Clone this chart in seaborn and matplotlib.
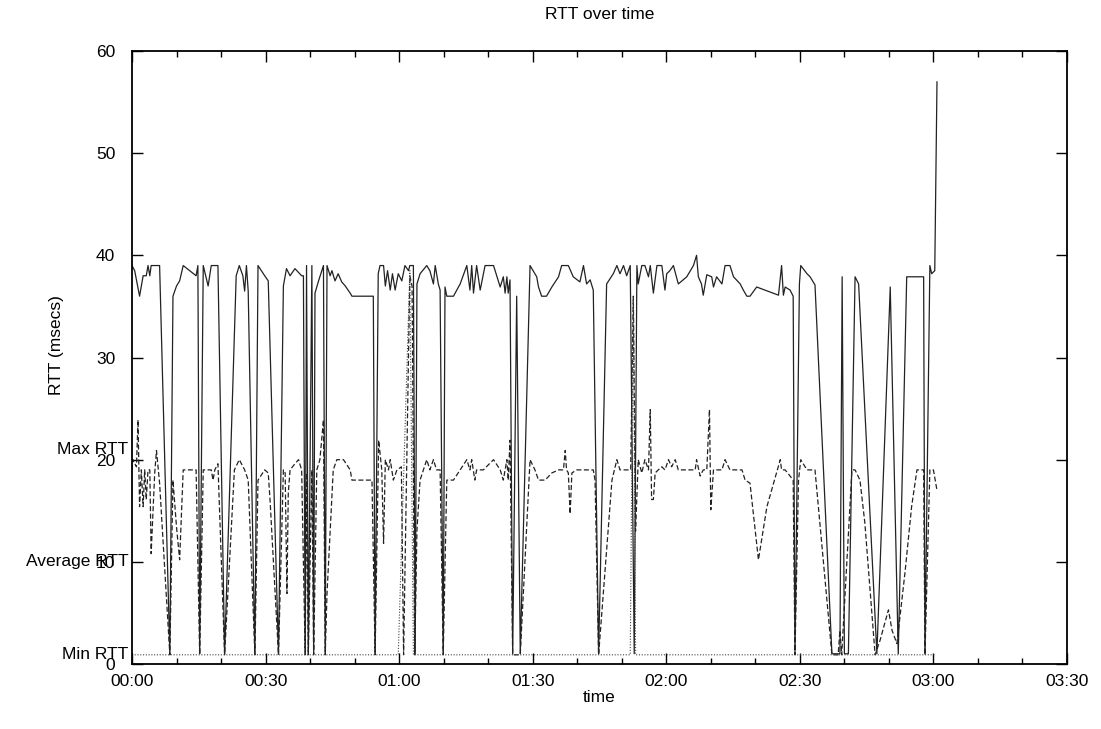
import matplotlib
matplotlib.use("Agg")
import matplotlib.pyplot as plt
import seaborn as sns
import pandas as pd
from matplotlib.ticker import MultipleLocator, FixedLocator
import matplotlib.transforms as mtransforms

# ---------------- data (time in minutes since 00:00, RTT in msecs) ----------------
t_max = [0, 0.6, 1.7, 2.5, 3.2, 3.6, 4.0, 4.3, 6.2, 8.5, 9.2, 10.0, 10.7, 11.5, 14.4, 14.8, 15.2,
         16.0, 17.1, 17.8, 19.3, 20.8, 23.4, 24.1, 24.9, 25.3, 25.7, 26.1, 27.6, 28.3, 29.8,
         30.6, 32.9, 34.0, 34.7, 35.5, 36.6, 38.1, 38.5, 38.9, 39.2, 39.6, 40.4, 40.8, 41.1,
         41.9, 43.0, 43.4, 43.8, 44.5, 44.9, 45.6, 46.3, 47.1, 47.9, 49.0, 49.4, 54.2, 54.6,
         55.3, 55.7, 56.5, 56.9, 57.4, 58.0, 58.5, 59.1, 59.8, 60.6, 61.3, 62.1, 62.4, 63.2,
         63.6, 64.0, 64.7, 66.2, 66.9, 67.7, 68.1, 68.8, 69.2, 69.9, 70.3, 70.7, 72.2, 73.7,
         75.2, 75.9, 76.3, 76.7, 77.4, 78.2, 79.3, 81.2, 82.7, 83.4, 83.8, 84.2, 84.5, 84.9,
         85.5, 86.4, 87.2, 89.4, 90.9, 91.3, 92.0, 93.1, 94.3, 95.8, 96.5, 98.0, 99.1, 100.6,
         101.4, 102.1, 102.9, 103.6, 104.8, 106.6, 108.1, 108.9, 109.6, 110.4, 111.1, 111.9,
         112.8, 113.4, 113.7, 114.5, 115.2, 116.0, 116.4, 117.1, 117.9, 119.0, 119.7, 120.1,
         120.8, 121.6, 122.7, 124.6, 126.1, 126.8, 127.2, 127.9, 128.3, 129.1, 130.2, 130.6,
         131.3, 132.5, 133.2, 134.3, 135.1, 136.6, 137.3, 138.1, 138.8, 140.3, 145.2, 145.9,
         146.3, 146.7, 147.8, 148.5, 148.9, 149.9, 150.2, 151.6, 152.3, 153.4, 157.2, 159.0,
         159.5, 160.0, 160.9, 162.4, 163.2, 167.3, 170.3, 172.1, 174.0, 177.8, 178.1, 179.2,
         179.6, 180.3, 180.8]
v_max = [39, 38.5, 36, 38, 38, 39, 38, 39, 39, 1, 36, 37, 37.5, 39, 38, 39, 1,
         39, 37, 39, 39, 1, 38, 39, 38, 36.5, 39, 36.5, 1, 39, 38,
         37.5, 1, 37, 38.7, 38, 38.7, 38, 38, 1, 39, 1, 39, 1, 36.3,
         37.5, 39, 1, 39, 38, 38.5, 37.5, 38.2, 37.4, 37, 36.3, 36, 36, 1,
         38.2, 39, 39, 37, 38.5, 36.6, 38.2, 36.6, 38.2, 37.5, 39, 38.5, 39, 39,
         1, 37.2, 38.2, 39, 38.5, 37.2, 39, 37.2, 36.6, 1, 36.9, 36, 36, 37.2,
         39, 36.6, 39, 36.3, 39, 36.6, 39, 39, 36.9, 37.9, 36.3, 37.9, 36.3, 37.6,
         1, 36, 1, 39, 37.9, 36.9, 36, 36, 36.9, 37.9, 39, 39, 37.9, 37.4,
         39, 37.2, 37.6, 36.6, 1, 37.2, 38.2, 39, 38.2, 39, 38, 39,
         1, 39, 37.2, 39, 39, 37.9, 39, 36.3, 39, 39, 36.6, 38.2,
         38.5, 39, 37.2, 37.9, 39, 40, 37.9, 37.2, 36.1, 38.1, 37.9, 36.9,
         37.9, 37.2, 39, 39, 37.9, 37.2, 36.6, 36, 36, 36.9, 36.1, 39,
         36.1, 36.9, 36.6, 36, 1, 37.2, 39, 38.2, 37.9, 37.1, 1, 1,
         37.9, 1, 1, 37.9, 37.2, 1, 36.9, 1, 37.9, 37.9, 1, 39,
         38.2, 38.5, 57]

t_avg = [0, 0.2, 1.0, 1.35, 1.7, 2.1, 2.5, 2.85, 3.2, 3.6, 4.0, 4.3, 5.1, 5.5, 6.2, 8.5, 9.2,
         10.0, 10.7, 11.5, 14.4, 15.2, 16.0, 17.8, 18.2, 18.6, 19.3, 20.8, 23.0, 24.1, 25.3,
         26.1, 27.6, 28.3, 29.8, 30.6, 31.0, 32.9, 34.0, 34.4, 34.8, 35.1, 35.5, 36.6, 37.4,
         38.1, 38.9, 39.2, 39.6, 40.4, 40.8, 41.5, 42.2, 43.0, 43.4, 43.8, 45.2, 46.0, 47.5,
         49.0, 49.4, 53.9, 54.6, 55.4, 56.1, 56.5, 56.9, 57.6, 58.0, 58.7, 59.5, 60.5, 61.0,
         62.4, 62.9, 63.5, 64.0, 64.7, 66.2, 66.9, 67.7, 68.4, 69.2, 69.9, 70.7, 72.2, 73.7,
         75.2, 75.9, 76.3, 77.0, 77.4, 78.9, 81.2, 82.7, 83.4, 84.2, 84.5, 84.9, 85.5, 87.2,
         89.4, 90.5, 91.3, 92.8, 94.3, 95.8, 96.9, 97.3, 97.6, 98.0, 98.4, 98.8, 99.9, 103.6,
         104.0, 104.8, 107.8, 108.9, 109.6, 112.0, 112.6, 113.1, 113.7, 114.5, 115.2, 116.0,
         116.4, 116.7, 117.1, 117.5, 118.2, 119.0, 119.7, 120.5, 121.2, 122.0, 122.7, 126.5,
         126.8, 127.6, 128.3, 129.1, 129.7, 130.0, 130.6, 132.5, 133.2, 134.3, 137.0, 137.7,
         138.8, 140.7, 142.6, 145.6, 145.9, 146.7, 147.8, 148.5, 148.9, 149.7, 150.2, 151.6,
         152.3, 153.4, 157.2, 158.6, 159.0, 159.4, 161.7, 162.4, 163.5, 164.6, 166.9, 168.0,
         169.9, 170.7, 171.8, 173.6, 175.1, 176.3, 177.8, 178.1, 179.2, 180.0, 180.8]
v_avg = [19, 20, 19.3, 23.9, 15.4, 19, 15.4, 19, 16.1, 19, 19, 10.8, 18.7, 20.9, 17.7, 0.9, 18,
         13.4, 10.2, 19, 19, 0.9, 19, 19, 18, 19, 19.6, 0.9, 19, 20, 19,
         18, 0.9, 18, 19, 18.7, 16.1, 0.9, 19, 18.7, 6.9, 16.7, 19, 19.6, 20,
         19, 0.9, 18.7, 0.9, 19, 0.9, 19, 20, 23.9, 0.9, 6.9, 19, 20, 20,
         19, 18, 18, 0.9, 21.9, 19, 11.8, 20, 19, 20, 18, 19, 19.3, 0.9,
         38, 37, 0.9, 13.1, 18, 20, 19, 20, 19, 19, 0.9, 18, 18, 19,
         20, 19, 20, 18, 19, 19, 20, 19, 18, 20, 18, 21.9, 0.9, 0.9,
         20, 19, 18, 18, 18.7, 19, 19, 20.9, 19, 18.7, 14.7, 18.7, 19, 19,
         18, 0.9, 18, 20, 19, 19, 36, 13, 20, 18.7, 20, 19,
         24.9, 16.1, 16.1, 18.7, 19, 19.3, 19, 20, 19.3, 20, 19, 19,
         20, 18.4, 19, 19, 24.9, 15.1, 19, 19, 20, 19, 19, 18,
         17.7, 10.2, 15.4, 20, 19, 19, 18.4, 18, 0.9, 18, 20, 19,
         19, 19, 0.9, 0.9, 3.3, 0.9, 19, 19, 18, 13.8, 0.9, 2.3,
         5.3, 3.3, 2.0, 8.9, 15.4, 19, 19, 0.9, 19, 19, 17]

t_min = [0.6, 59.8, 62.4, 63.2, 111.9, 112.6, 113.1, 180.6]
v_min = [0.9, 0.9, 38.5, 0.9, 0.9, 36, 0.9, 0.9]

x_tick_minutes = [0, 30, 60, 90, 120, 150, 180, 210]
x_tick_labels = ["00:00", "00:30", "01:00", "01:30", "02:00", "02:30", "03:00", "03:30"]
y_ticks = [0, 10, 20, 30, 40, 50, 60]
key_labels = ["Max RTT", "Average RTT", "Min RTT"]
key_levels = [21, 10, 0.9]

# ---------------- styling ----------------
sns.set_theme(style="white")
plt.rcParams["font.family"] = ["Liberation Sans", "DejaVu Sans"]
FS = 12.5

fig = plt.figure(figsize=(11.01, 7.29), dpi=100)
ax = fig.add_axes([132 / 1101, 1 - 664 / 729, (1067 - 132) / 1101, (664 - 51) / 729])

df_max = pd.DataFrame({"t": t_max, "v": v_max})
df_avg = pd.DataFrame({"t": t_avg, "v": v_avg})
df_min = pd.DataFrame({"t": t_min, "v": v_min})

sns.lineplot(data=df_max, x="t", y="v", ax=ax, color="#222222", lw=0.9, sort=False,
             estimator=None)
sns.lineplot(data=df_avg, x="t", y="v", ax=ax, color="#222222", lw=0.9, sort=False,
             estimator=None)
ax.lines[-1].set_linestyle((0, (4, 2)))
sns.lineplot(data=df_min, x="t", y="v", ax=ax, color="#444444", lw=0.8, sort=False,
             estimator=None)
ax.lines[-1].set_linestyle((0, (1, 1.5)))

ax.set_xlim(0, 210)
ax.set_ylim(0, 60)
ax.xaxis.set_major_locator(FixedLocator(x_tick_minutes))
ax.set_xticklabels(x_tick_labels)
ax.xaxis.set_minor_locator(MultipleLocator(10))
ax.yaxis.set_major_locator(FixedLocator(y_ticks))
ax.set_yticklabels([str(v) for v in y_ticks])

ax.tick_params(which="both", direction="in", top=True, right=True, bottom=True, left=True,
               color="black", labelsize=FS, labelcolor="black")
ax.tick_params(which="major", length=8, width=1)
ax.tick_params(which="minor", length=4, width=1)
ax.tick_params(axis="x", which="major", pad=7)
ax.tick_params(axis="y", which="major", pad=12)

for s in ax.spines.values():
    s.set_visible(True)
    s.set_color("black")
    s.set_linewidth(1.3)

ax.set_xlabel("time", fontsize=FS, color="black")
ax.xaxis.set_label_coords(0.5, -0.042)
ax.set_ylabel("RTT (msecs)", fontsize=FS, color="black")
ax.yaxis.set_label_coords(-0.073, 0.52)
ax.set_title("RTT over time", fontsize=FS, color="black", pad=23)

trans = mtransforms.blended_transform_factory(ax.transAxes, ax.transData)
for lab, lev in zip(key_labels, key_levels):
    ax.text(-0.004, lev, lab, transform=trans, ha="right", va="center", fontsize=FS,
            color="black", clip_on=False)

fig.savefig("out.png", dpi=100)
